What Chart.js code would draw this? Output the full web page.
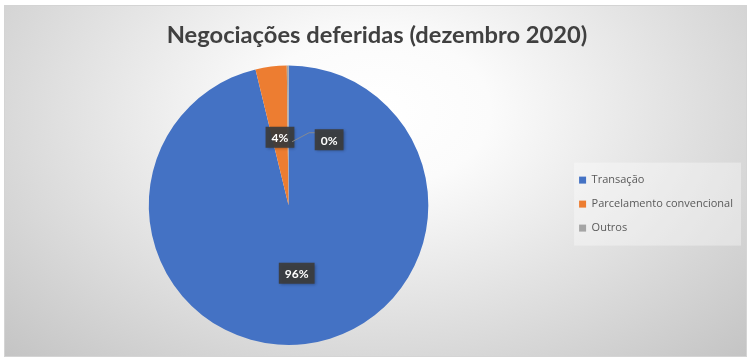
<!DOCTYPE html>
<html>
<head>
<meta charset="utf-8">
<script src="https://cdn.jsdelivr.net/npm/chart.js@4.4.0/dist/chart.umd.min.js"></script>
<style>
  html, body { margin: 0; padding: 0; background: #fff; }
  #wrap { position: relative; width: 750px; height: 362px; }
  #frame {
    position: absolute; left: 4px; top: 5px; width: 741px; height: 350px;
    border: 1px solid #d4d4d4;
    background: radial-gradient(ellipse farthest-corner at 50% 30%, #ffffff 0%, #fbfbfb 22%, #c4c4c4 100%);
  }
  canvas { position: absolute; left: 0; top: 0; }
</style>
</head>
<body>
<div id="wrap">
  <div id="frame"></div>
  <canvas id="negChart" width="750" height="362"></canvas>
</div>
<script>
const categories = ['Transação', 'Parcelamento convencional', 'Outros'];
const shares = [96.2, 3.6, 0.2];
const colors = ['#4472C4', '#ED7D31', '#A5A5A5'];

// fundo claro atrás dos itens da legenda
const legendBg = {
  id: 'legendBg',
  beforeDraw(chart) {
    const lg = chart.legend;
    if (!lg || !lg.legendHitBoxes || !lg.legendHitBoxes.length) return;
    const boxes = lg.legendHitBoxes;
    const left = Math.min(...boxes.map(b => b.left)) - 5;
    const top = Math.min(...boxes.map(b => b.top)) - 12;
    const bottom = Math.max(...boxes.map(b => b.top + b.height)) + 12;
    const ctx = chart.ctx;
    ctx.save();
    ctx.fillStyle = 'rgba(255,255,255,0.35)';
    ctx.fillRect(left, top, 741 - left, bottom - top);
    ctx.restore();
  }
};

// rótulos de dados em caixas escuras
const pctLabels = {
  id: 'pctLabels',
  afterDatasetsDraw(chart) {
    const ctx = chart.ctx;
    const meta = chart.getDatasetMeta(0);
    const vals = chart.data.datasets[0].data;
    const total = vals.reduce((a, b) => a + b, 0);
    ctx.save();
    ctx.font = 'bold 12px Lato';
    ctx.textAlign = 'center';
    ctx.textBaseline = 'middle';
    meta.data.forEach((arc, i) => {
      const p = arc.getProps(['x', 'y', 'startAngle', 'endAngle', 'outerRadius'], true);
      const mid = (p.startAngle + p.endAngle) / 2;
      const bx = p.x + Math.cos(mid) * p.outerRadius * 0.49;
      const by = p.y + Math.sin(mid) * p.outerRadius * 0.49;
      const pct = Math.round(vals[i] / total * 100);
      let lx = bx, ly = by;
      if (pct === 0) {
        lx = bx + 41;
        ly = by + 3;
        ctx.strokeStyle = 'rgba(140,140,140,0.9)';
        ctx.lineWidth = 1;
        ctx.beginPath();
        ctx.moveTo(bx + 4, by + 5);
        ctx.lineTo(lx - 20, ly - 7);
        ctx.lineTo(lx - 14, ly - 7);
        ctx.stroke();
      }
      const txt = pct + '%';
      const w = ctx.measureText(txt).width + 12;
      const h = 21;
      ctx.shadowColor = 'rgba(0,0,0,0.35)';
      ctx.shadowBlur = 3;
      ctx.shadowOffsetX = 1;
      ctx.shadowOffsetY = 1;
      ctx.fillStyle = 'rgba(60,60,60,0.92)';
      ctx.fillRect(lx - w / 2, ly - h / 2, w, h);
      ctx.shadowColor = 'transparent';
      ctx.fillStyle = '#ffffff';
      ctx.fillText(txt, lx, ly + 1);
    });
    ctx.restore();
  }
};

new Chart(document.getElementById('negChart'), {
  type: 'pie',
  data: {
    labels: categories,
    datasets: [{
      data: shares,
      backgroundColor: colors,
      borderWidth: 0
    }]
  },
  options: {
    responsive: false,
    animation: false,
    layout: { padding: { left: 11, right: 7, top: 0, bottom: 17 } },
    plugins: {
      title: {
        display: true,
        text: 'Negociações deferidas (dezembro 2020)',
        color: '#404040',
        font: { family: 'Lato', size: 23.7, weight: 'bold' },
        padding: { top: 21, bottom: 16 }
      },
      legend: {
        position: 'right',
        title: { display: true, text: ' ', padding: { top: 25, bottom: 25 }, font: { size: 11 } },
        labels: {
          boxWidth: 7,
          boxHeight: 7,
          padding: 13,
          color: '#595959',
          font: { family: 'Open Sans', size: 11 }
        }
      },
      tooltip: { enabled: false }
    }
  },
  plugins: [legendBg, pctLabels]
});
</script>
</body>
</html>
